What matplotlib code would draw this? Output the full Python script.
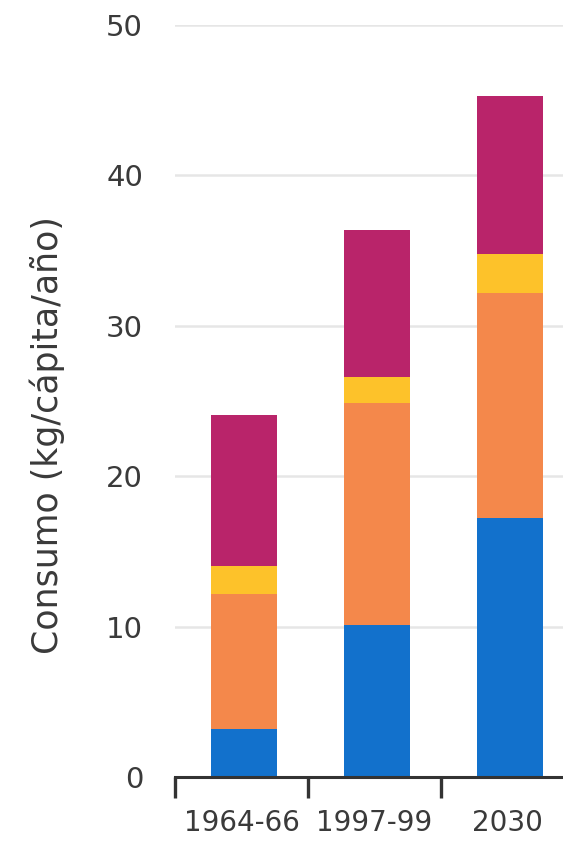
import numpy as np
import matplotlib
matplotlib.use("Agg")
import matplotlib.pyplot as plt

plt.rcParams['font.family'] = ['DejaVu Sans']

periods = ["1964-66", "1997-99", "2030"]
seg_blue = [3.2, 10.1, 17.2]
seg_orange = [9.0, 14.8, 15.0]
seg_yellow = [1.8, 1.7, 2.6]
seg_magenta = [10.1, 9.8, 10.5]

colors = ["#1271cc", "#f4884b", "#fdc22a", "#b9246a"]
text_col = "#3a3a3a"

W, H = 563, 841
fig = plt.figure(figsize=(W / 100, H / 100), dpi=100)
# axes runs past the right edge of the picture, like the original crop
ax = fig.add_axes([175 / W, (H - 777) / H, 399 / W, 752 / H])

x = np.arange(len(periods))
bottom = np.zeros(len(periods))
for vals, c in zip([seg_blue, seg_orange, seg_yellow, seg_magenta], colors):
    ax.bar(x + 0.02, vals, width=0.5, bottom=bottom, color=c, zorder=3)
    bottom += np.array(vals)

ax.set_xlim(-0.5, 2.5)
ax.set_ylim(0, 50)
ax.set_yticks([0, 10, 20, 30, 40, 50])
ax.yaxis.grid(True, color="#e6e6e6", linewidth=1.8, zorder=0)
ax.tick_params(axis='y', length=0, pad=23, labelsize=21, labelcolor=text_col)

ax.set_xticks(x)
ax.set_xticklabels(periods)
ax.set_xticks([-0.5, 0.5, 1.5], minor=True)
ax.tick_params(axis='x', which='major', length=0, pad=23, labelsize=20, labelcolor=text_col)
ax.tick_params(axis='x', which='minor', length=15, width=2.4, color="#333333", direction='out')

for s in ['top', 'right', 'left']:
    ax.spines[s].set_visible(False)
ax.spines['bottom'].set_color("#333333")
ax.spines['bottom'].set_linewidth(2.2)
ax.spines['bottom'].set_zorder(4)

fig.text(47 / W, (H - 435) / H, "Consumo (kg/cápita/año)", rotation=90,
         ha='center', va='center', fontsize=25, color=text_col)

fig.savefig("out.png", dpi=100)
